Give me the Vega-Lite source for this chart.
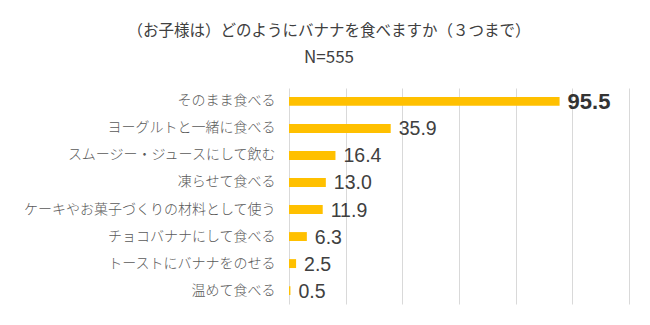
{
  "$schema": "https://vega.github.io/schema/vega-lite/v6.json",
  "autosize": {"type": "none"},
  "width": 340,
  "height": 216,
  "padding": {"left": 289, "top": 88, "right": 21, "bottom": 21},
  "background": "white",
  "title": {
    "text": "（お子様は）どのようにバナナを食べますか（３つまで）",
    "subtitle": "N=555",
    "anchor": "middle",
    "frame": "group",
    "dx": -130,
    "offset": 22,
    "font": "Noto Sans CJK JP",
    "fontSize": 15.5,
    "fontWeight": 400,
    "color": "#404040",
    "subtitleFont": "Noto Sans CJK JP",
    "subtitleFontSize": 17,
    "subtitleFontWeight": 400,
    "subtitleColor": "#404040",
    "subtitlePadding": 11
  },
  "data": {
    "values": [
      {"item": "そのまま食べる", "value": 95.5},
      {"item": "ヨーグルトと一緒に食べる", "value": 35.9},
      {"item": "スムージー・ジュースにして飲む", "value": 16.4},
      {"item": "凍らせて食べる", "value": 13.0},
      {"item": "ケーキやお菓子づくりの材料として使う", "value": 11.9},
      {"item": "チョコバナナにして食べる", "value": 6.3},
      {"item": "トーストにバナナをのせる", "value": 2.5},
      {"item": "温めて食べる", "value": 0.5}
    ]
  },
  "encoding": {
    "y": {
      "field": "item",
      "type": "nominal",
      "sort": null,
      "scale": {"paddingInner": 0.67, "paddingOuter": 0.33},
      "axis": {
        "title": null,
        "domain": false,
        "ticks": false,
        "labelPadding": 14,
        "labelFont": "Noto Sans CJK JP",
        "labelFontSize": 14,
        "labelFontWeight": 300,
        "labelColor": "#595959",
        "labelLimit": 300
      }
    },
    "x": {
      "field": "value",
      "type": "quantitative",
      "scale": {"domain": [0, 120], "nice": false},
      "axis": {
        "title": null,
        "values": [0, 20, 40, 60, 80, 100, 120],
        "labels": false,
        "ticks": false,
        "domain": false,
        "grid": true,
        "gridColor": "#D9D9D9",
        "gridWidth": 1
      }
    }
  },
  "layer": [
    {"mark": {"type": "bar", "color": "#FFC000"}},
    {
      "transform": [{"filter": "datum.value < 90"}],
      "mark": {"type": "text", "align": "left", "baseline": "middle", "dx": 8, "dy": 1, "font": "Liberation Sans", "fontSize": 19.5, "fontWeight": "normal", "color": "#404040"},
      "encoding": {
        "text": {"field": "value", "type": "quantitative", "format": ".1f"}
      }
    },
    {
      "transform": [{"filter": "datum.value >= 90"}],
      "mark": {"type": "text", "align": "left", "baseline": "middle", "dx": 8, "dy": 1, "font": "Liberation Sans", "fontSize": 22, "fontWeight": "bold", "color": "#333333"},
      "encoding": {
        "text": {"field": "value", "type": "quantitative", "format": ".1f"}
      }
    }
  ],
  "config": {"view": {"stroke": null}}
}
